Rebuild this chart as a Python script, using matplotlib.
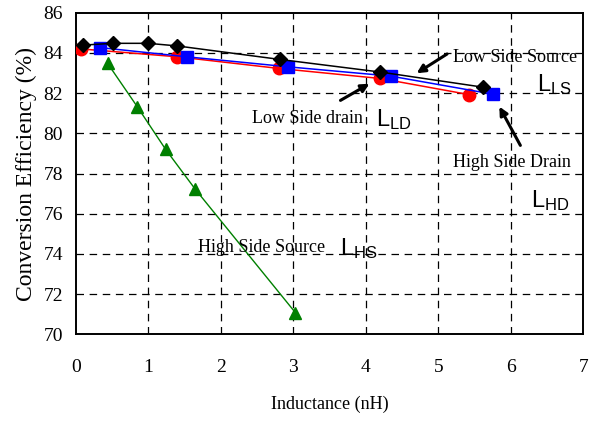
import matplotlib
matplotlib.use("Agg")
import matplotlib.pyplot as plt

# 数据
ls_x = [0.10, 0.51, 1.00, 1.40, 2.81, 4.20, 5.61]
ls_y = [84.39, 84.48, 84.48, 84.35, 83.68, 83.05, 82.30]

ld_x = [0.08, 1.40, 2.80, 4.20, 5.42]
ld_y = [84.20, 83.81, 83.23, 82.73, 81.93]

hd_x = [0.33, 1.53, 2.93, 4.34, 5.75]
hd_y = [84.27, 83.81, 83.31, 82.85, 81.95]

hs_x = [0.44, 0.85, 1.24, 1.65, 3.03]
hs_y = [83.48, 81.32, 79.20, 77.21, 71.07]

x_ticks = [0, 1, 2, 3, 4, 5, 6, 7]
y_ticks = [70, 72, 74, 76, 78, 80, 82, 84, 86]

serif = "Liberation Serif"
sans = "Liberation Sans"

fig = plt.figure(figsize=(5.96, 4.26), dpi=100)
ax = fig.add_axes([0.127, 0.2153, 0.852, 0.7547])

# 网格
for xv in x_ticks[1:-1]:
    ax.axvline(xv, color="black", lw=0.9, dashes=(6, 4.5), zorder=1)
for yv in y_ticks[1:-1]:
    ax.axhline(yv, color="black", lw=0.9, dashes=(6, 4.5), zorder=1)

# 曲线
ax.plot(hs_x, hs_y, color="green", lw=1.0, marker="^", ms=9, zorder=3)
ax.plot(ld_x, ld_y, color="red", lw=1.1, marker="o", ms=9, zorder=4)
ax.plot(hd_x, hd_y, color="blue", lw=1.1, marker="s", ms=8.5, zorder=5)
ax.plot(ls_x, ls_y, color="black", lw=1.1, marker="D", ms=7, zorder=6)

ax.set_xlim(0, 7)
ax.set_ylim(70, 86)
ax.set_xticks(x_ticks)
ax.set_yticks(y_ticks)
ax.tick_params(length=0)
ax.tick_params(axis="x", pad=18)
ax.tick_params(axis="y", pad=9)
for lab in ax.get_xticklabels() + ax.get_yticklabels():
    lab.set_family(serif)
    lab.set_fontsize(14)
for sp in ax.spines.values():
    sp.set_linewidth(1.4)

ax.set_xlabel("Inductance (nH)", family=serif, fontsize=13, labelpad=14)
ax.set_ylabel("Conversion Efficiency (%)", family=serif, fontsize=17, labelpad=5)

# 标注文字
ax.text(5.20, 83.78, "Low Side Source", family=serif, fontsize=13, va="center")
ax.text(2.43, 80.5, "Low Side drain", family=serif, fontsize=13, va="baseline")
ax.text(5.20, 78.34, "High Side Drain", family=serif, fontsize=13, va="baseline")
ax.text(1.69, 74.11, "High Side Source", family=serif, fontsize=13, va="baseline")

ax.text(6.36, 82.12, r"$\mathregular{L_{LS}}$", family=sans, fontsize=17, va="baseline")
ax.text(4.14, 80.38, r"$\mathregular{L_{LD}}$", family=sans, fontsize=17, va="baseline")
ax.text(6.27, 76.35, r"$\mathregular{L_{HD}}$", family=sans, fontsize=17, va="baseline")
ax.text(3.65, 73.94, r"$\mathregular{L_{HS}}$", family=sans, fontsize=17, va="baseline")

# 箭头
arrow = dict(arrowstyle="-|>", color="black", lw=2.2, mutation_scale=12, shrinkA=0, shrinkB=0)
ax.annotate("", xy=(4.70, 82.99), xytext=(5.12, 83.95), arrowprops=arrow, zorder=7)
ax.annotate("", xy=(4.05, 82.47), xytext=(3.65, 81.64), arrowprops=arrow, zorder=7)
ax.annotate("", xy=(5.84, 81.33), xytext=(6.13, 79.40), arrowprops=arrow, zorder=7)

fig.savefig("out.png", dpi=100)
